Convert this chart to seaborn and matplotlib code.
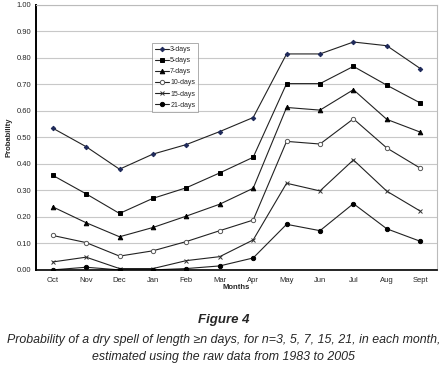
import pandas as pd
import seaborn as sns
import matplotlib.pyplot as plt
from matplotlib.ticker import FixedLocator

months = ["Oct", "Nov", "Dec", "Jan", "Feb", "Mar", "Apr", "May", "Jun", "Jul", "Aug", "Sept"]

days3 = [0.535, 0.465, 0.380, 0.437, 0.473, 0.522, 0.575, 0.815, 0.815, 0.860, 0.846, 0.760]
days5 = [0.357, 0.287, 0.213, 0.270, 0.310, 0.366, 0.425, 0.703, 0.703, 0.768, 0.697, 0.630]
days7 = [0.238, 0.178, 0.125, 0.160, 0.203, 0.248, 0.308, 0.613, 0.603, 0.680, 0.568, 0.520]
days10 = [0.130, 0.103, 0.052, 0.072, 0.107, 0.148, 0.188, 0.485, 0.475, 0.570, 0.460, 0.384]
days15 = [0.030, 0.048, 0.005, 0.005, 0.035, 0.050, 0.113, 0.327, 0.298, 0.415, 0.297, 0.222]
days21 = [0.000, 0.010, 0.000, 0.000, 0.005, 0.015, 0.045, 0.172, 0.148, 0.250, 0.155, 0.108]

series = {
    "3-days": days3,
    "5-days": days5,
    "7-days": days7,
    "10-days": days10,
    "15-days": days15,
    "21-days": days21,
}

sns.set_style("white")
plt.rcParams['font.family'] = ['Liberation Sans', 'DejaVu Sans']

fig = plt.figure(figsize=(4.47, 3.78), dpi=100)
ax = fig.add_axes([0.0805, 0.286, 0.897, 0.701])

# marker style per series: (marker, size, facecolor, edgecolor)
styles = {
    "3-days": ("D", 2.3, "#1f2a5a", "#1f2a5a"),
    "5-days": ("s", 3.0, "black", "black"),
    "7-days": ("^", 3.3, "black", "black"),
    "10-days": ("o", 3.1, "white", "#555555"),
    "15-days": ("x", 3.0, "#333333", "#333333"),
    "21-days": ("o", 3.1, "black", "black"),
}

x = list(range(len(months)))
for name, vals in series.items():
    m, ms, fc, ec = styles[name]
    df = pd.DataFrame({"x": x, "p": vals})
    sns.lineplot(data=df, x="x", y="p", ax=ax, sort=False, color="#222222",
                 linewidth=0.8, marker=m, markersize=ms, markerfacecolor=fc,
                 markeredgecolor=ec, markeredgewidth=0.7, label=name)

ax.set_xlim(-0.5, len(months) - 0.5)
ax.set_ylim(0, 1.0)
ax.set_yticks([i / 10 for i in range(11)])
ax.set_yticklabels([f"{i / 10:.2f}" for i in range(11)], fontsize=5.5)
ax.set_xticks(x)
ax.set_xticklabels(months, fontsize=5.5)
ax.xaxis.set_minor_locator(FixedLocator([i + 0.5 for i in range(len(months))]))
ax.tick_params(axis="x", which="major", length=0, pad=5)
ax.tick_params(axis="x", which="minor", length=3, width=1, direction="out", color="black")
ax.tick_params(axis="y", length=3, width=1, direction="inout", color="black", pad=2)

ax.grid(axis="y", color="#c8c8c8", linewidth=0.8)
ax.set_axisbelow(True)
for side in ["top", "right"]:
    ax.spines[side].set_color("#bbbbbb")
    ax.spines[side].set_linewidth(0.8)
ax.spines["left"].set_color("black")
ax.spines["left"].set_linewidth(1.4)
ax.spines["bottom"].set_color("black")
ax.spines["bottom"].set_linewidth(1.2)

ax.set_xlabel("Months", fontsize=5.5, fontweight="bold", labelpad=0)
ax.set_ylabel("Probability", fontsize=5.5, fontweight="bold", labelpad=3)

leg = ax.legend(loc="upper left", bbox_to_anchor=(0.28, 0.87), fontsize=5,
                frameon=True, fancybox=False, edgecolor="#888888",
                handlelength=2.0, handletextpad=0.2, labelspacing=0.6,
                borderpad=0.45)
leg.get_frame().set_linewidth(0.6)

fig.text(0.5, 0.153, "Figure 4", ha="center", va="center", fontsize=9.5,
         fontweight="bold", fontstyle="italic")
fig.text(0.5, 0.1, "Probability of a dry spell of length \u2265n days, for n=3, 5, 7, 15, 21, in each month,",
         ha="center", va="center", fontsize=8.9, fontstyle="italic")
fig.text(0.5, 0.055, "estimated using the raw data from 1983 to 2005",
         ha="center", va="center", fontsize=8.9, fontstyle="italic")

fig.savefig("out.png", dpi=100)
